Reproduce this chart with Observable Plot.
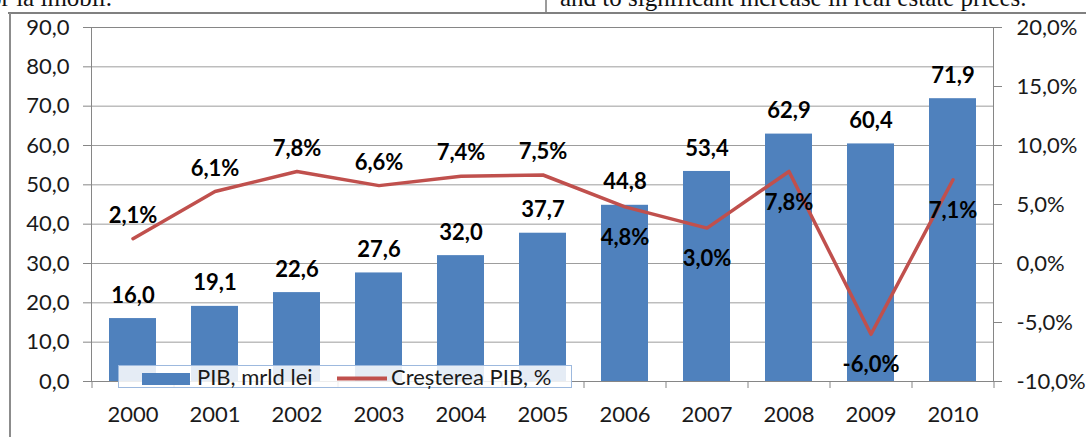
<!DOCTYPE html>
<html>
<head>
<meta charset="utf-8">
<script src="https://cdn.jsdelivr.net/npm/d3@7"></script>
<script src="https://cdn.jsdelivr.net/npm/@observablehq/plot@0.6"></script>
<style>
  html, body { margin: 0; padding: 0; background: #fff; }
  body { width: 1086px; height: 437px; overflow: hidden; position: relative; font-family: Lato, sans-serif; }
  #chart { position: absolute; left: 0; top: 0; }
  .overlay { position: absolute; left: 0; top: 0; }
</style>
</head>
<body>
<div id="chart"></div>
<svg class="overlay" id="deco" width="1086" height="437">
  <text x="112" y="6" text-anchor="end" font-family="Liberation Serif, serif" font-size="25" fill="#111">or la imobil.</text>
  <text x="560" y="6" font-family="Liberation Serif, serif" font-size="25" fill="#111">and to significant increase in real estate prices.</text>
  <line x1="546" y1="0" x2="546" y2="13" stroke="#7a7a7a" stroke-width="1.5"></line>
  <line x1="8" y1="13" x2="1086" y2="13" stroke="#808080" stroke-width="2"></line>
  <line x1="10" y1="13" x2="10" y2="437" stroke="#8c8c8c" stroke-width="2"></line>
</svg>
<div class="overlay" id="legend"></div>
<script>
// ---- data ----
const years = ["2000", "2001", "2002", "2003", "2004", "2005", "2006", "2007", "2008", "2009", "2010"];
const pibValues = [16.0, 19.1, 22.6, 27.6, 32.0, 37.7, 44.8, 53.4, 62.9, 60.4, 71.9];
const growthValues = [2.1, 6.1, 7.8, 6.6, 7.4, 7.5, 4.8, 3.0, 7.8, -6.0, 7.1];
const leftTicks = [0, 10, 20, 30, 40, 50, 60, 70, 80, 90];
const rightTicks = [-10, -5, 0, 5, 10, 15, 20];
const seriesNames = ["PIB, mrld lei", "Creșterea PIB, %"];

// ---- helpers ----
const leftDomain = [0, 90];
const rightDomain = [-10, 20];
const toLeft = p => (p - rightDomain[0]) * (leftDomain[1] - leftDomain[0]) / (rightDomain[1] - rightDomain[0]);
const fromLeft = v => v * (rightDomain[1] - rightDomain[0]) / (leftDomain[1] - leftDomain[0]) + rightDomain[0];
const comma = v => (Math.round(v * 10) / 10).toFixed(1).replace(".", ",");

const rows = years.map((year, i) => ({year, pib: pibValues[i], growth: growthValues[i], g: toLeft(growthValues[i])}));
const labelsAbove = rows.filter(d => +d.year <= 2005);
const labelsBelow = rows.filter(d => +d.year > 2005);

const W = 1086, H = 437, mL = 91, mR = 93, mT = 27, mB = 56;
const halfStep = (W - mL - mR) / years.length / 2;

const blue = "#4F81BD", red = "#C0504D", axisGray = "#868686", gridGray = "#9d9d9d";
const font = "Lato, sans-serif";

const chart = Plot.plot({
  width: W, height: H,
  marginLeft: mL, marginRight: mR, marginTop: mT, marginBottom: mB,
  style: {fontFamily: font, fontSize: "22px", color: "#1a1a1a", background: "transparent", overflow: "visible"},
  x: {domain: years, paddingInner: 0.43, paddingOuter: 0.215, axis: null},
  y: {domain: leftDomain, axis: null},
  marks: [
    Plot.ruleY(leftTicks, {stroke: gridGray}),
    Plot.barY(rows, {x: "year", y: "pib", fill: blue}),
    Plot.frame({stroke: axisGray}),
    Plot.ruleX(years, {x: d => d, y1: 0, y2: 0, insetBottom: -7, dx: -halfStep, stroke: axisGray}),
    Plot.ruleX(years.slice(-1), {x: d => d, y1: 0, y2: 0, insetBottom: -7, dx: halfStep, stroke: axisGray}),
    Plot.axisY(leftTicks, {anchor: "left", tickSize: 8, tickPadding: 14, tickFormat: comma, stroke: axisGray, color: "#1a1a1a", fontSize: 22, label: null}),
    Plot.axisY(rightTicks.map(toLeft), {anchor: "right", tickSize: 8, tickPadding: 15, tickFormat: v => comma(fromLeft(v)) + "%", stroke: axisGray, color: "#1a1a1a", fontSize: 22, label: null}),
    Plot.axisX({anchor: "bottom", tickSize: 0, tickPadding: 25, color: "#1a1a1a", fontSize: 22, label: null}),
    Plot.line(rows, {x: "year", y: "g", stroke: red, strokeWidth: 3.5}),
    Plot.text(rows, {x: "year", y: "pib", text: d => comma(d.pib), dy: -23, fontWeight: "bold", fontSize: 22, fill: "#000"}),
    Plot.text(labelsAbove, {x: "year", y: "g", text: d => comma(d.growth) + "%", dy: -23, fontWeight: "bold", fontSize: 22, fill: "#000"}),
    Plot.text(labelsBelow, {x: "year", y: "g", text: d => comma(d.growth) + "%", dy: 31, fontWeight: "bold", fontSize: 22, fill: "#000"})
  ]
});
document.getElementById("chart").appendChild(chart);

// ---- legend (overlaid at the bottom-left of the plot area) ----
const legend = d3.select("#legend").append("svg").attr("width", W).attr("height", H);
legend.append("rect").attr("x", 118.5).attr("y", 365.5).attr("width", 453).attr("height", 22)
  .attr("fill", "#fff").attr("fill-opacity", 0.85).attr("stroke", "#9DB9DE").attr("stroke-width", 1);
legend.append("rect").attr("x", 142).attr("y", 373).attr("width", 48).attr("height", 12).attr("fill", blue);
legend.append("text").attr("x", 197).attr("y", 385).attr("font-family", font).attr("font-size", 22).attr("fill", "#1a1a1a").text(seriesNames[0]);
legend.append("line").attr("x1", 337).attr("x2", 387).attr("y1", 378.5).attr("y2", 378.5).attr("stroke", red).attr("stroke-width", 4);
legend.append("text").attr("x", 391).attr("y", 385).attr("font-family", font).attr("font-size", 22).attr("fill", "#1a1a1a").text(seriesNames[1]);
</script>
</body>
</html>
